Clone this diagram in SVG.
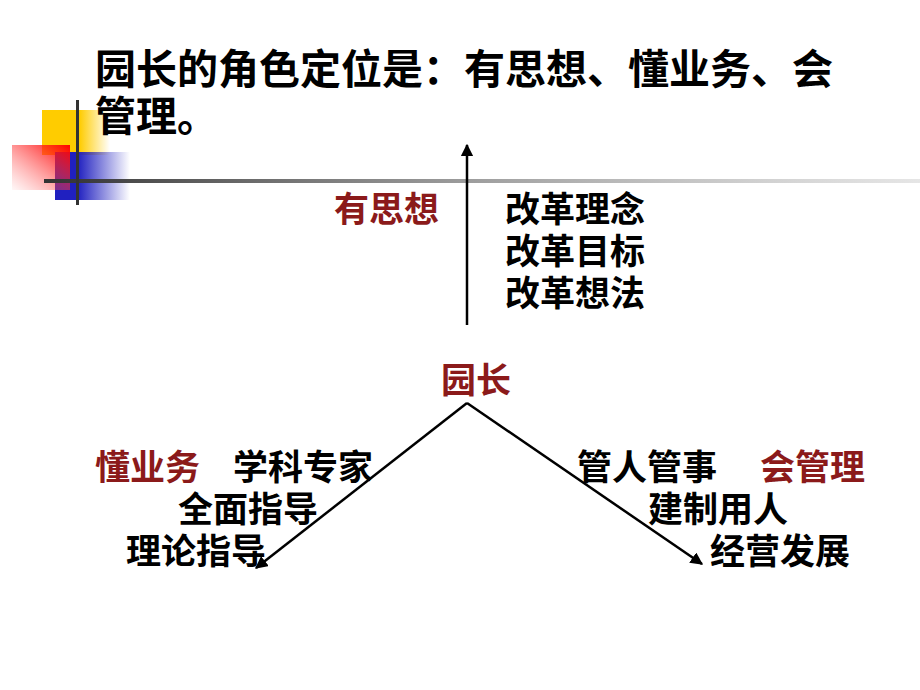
<svg xmlns="http://www.w3.org/2000/svg" width="920" height="690" viewBox="0 0 920 690">
<style>
text{font-family:"Liberation Sans","Noto Sans CJK SC",sans-serif;fill:#000;font-weight:bold}
.t{font-size:41px}
.b{font-size:35px}
.r{fill:#8b1a1a}
.c{stroke:#000;stroke-width:2.5;fill:none}
</style>
<defs>
<linearGradient id="gy" x1="0" x2="1"><stop offset="0.55" stop-color="#ffcc00"/><stop offset="1" stop-color="#ffcc00" stop-opacity="0"/></linearGradient>
<linearGradient id="gr" x1="1" y1="0" x2="0" y2="1"><stop offset="0" stop-color="#ff0000"/><stop offset="1" stop-color="#ff6666" stop-opacity="0.05"/></linearGradient>
<linearGradient id="gb" x1="0" x2="1"><stop offset="0.3" stop-color="#2020c0"/><stop offset="1" stop-color="#2020c0" stop-opacity="0"/></linearGradient>
<linearGradient id="gl" x1="0" x2="1"><stop offset="0" stop-color="#333"/><stop offset="1" stop-color="#ccc" stop-opacity="0.5"/></linearGradient>
<marker id="a" viewBox="0 0 10 10" refX="9" refY="5" markerWidth="5" markerHeight="5" orient="auto"><path d="M0,0L10,5L0,10z" fill="#000"/></marker>
</defs>
<g id="deco">
<rect x="42" y="110" width="68" height="45" fill="url(#gy)"/>
<rect x="55" y="152" width="75" height="48" fill="url(#gb)"/>
<rect x="12" y="145" width="58" height="45" fill="url(#gr)"/>
<rect x="44" y="179" width="876" height="4" fill="url(#gl)"/>
<rect x="76" y="100" width="3" height="105" fill="#333"/>
</g>
<g id="title"><text class="t" x="95" y="84">园长的角色定位是：有思想、懂业务、会</text><text class="t" x="95" y="131">管理。</text></g>
<g id="connectors">
<line class="c" x1="467" y1="325" x2="467" y2="145" marker-end="url(#a)"/>
<line class="c" x1="467" y1="403" x2="256" y2="568" marker-end="url(#a)"/>
<line class="c" x1="467" y1="403" x2="702" y2="564" marker-end="url(#a)"/>
</g>
<g id="n-center"><text class="b r" x="441" y="393">园长</text></g>
<g id="n-top"><text class="b r" x="334" y="222">有思想</text><text class="b" x="505" y="222">改革理念</text><text class="b" x="505" y="264">改革目标</text><text class="b" x="505" y="306">改革想法</text></g>
<g id="n-left"><text class="b r" x="95" y="480">懂业务</text><text class="b" x="233" y="480">学科专家</text><text class="b" x="178" y="522">全面指导</text><text class="b" x="126" y="564">理论指导</text></g>
<g id="n-right"><text class="b" x="577" y="480">管人管事</text><text class="b r" x="760" y="480">会管理</text><text class="b" x="648" y="522">建制用人</text><text class="b" x="710" y="564">经营发展</text></g>
</svg>
